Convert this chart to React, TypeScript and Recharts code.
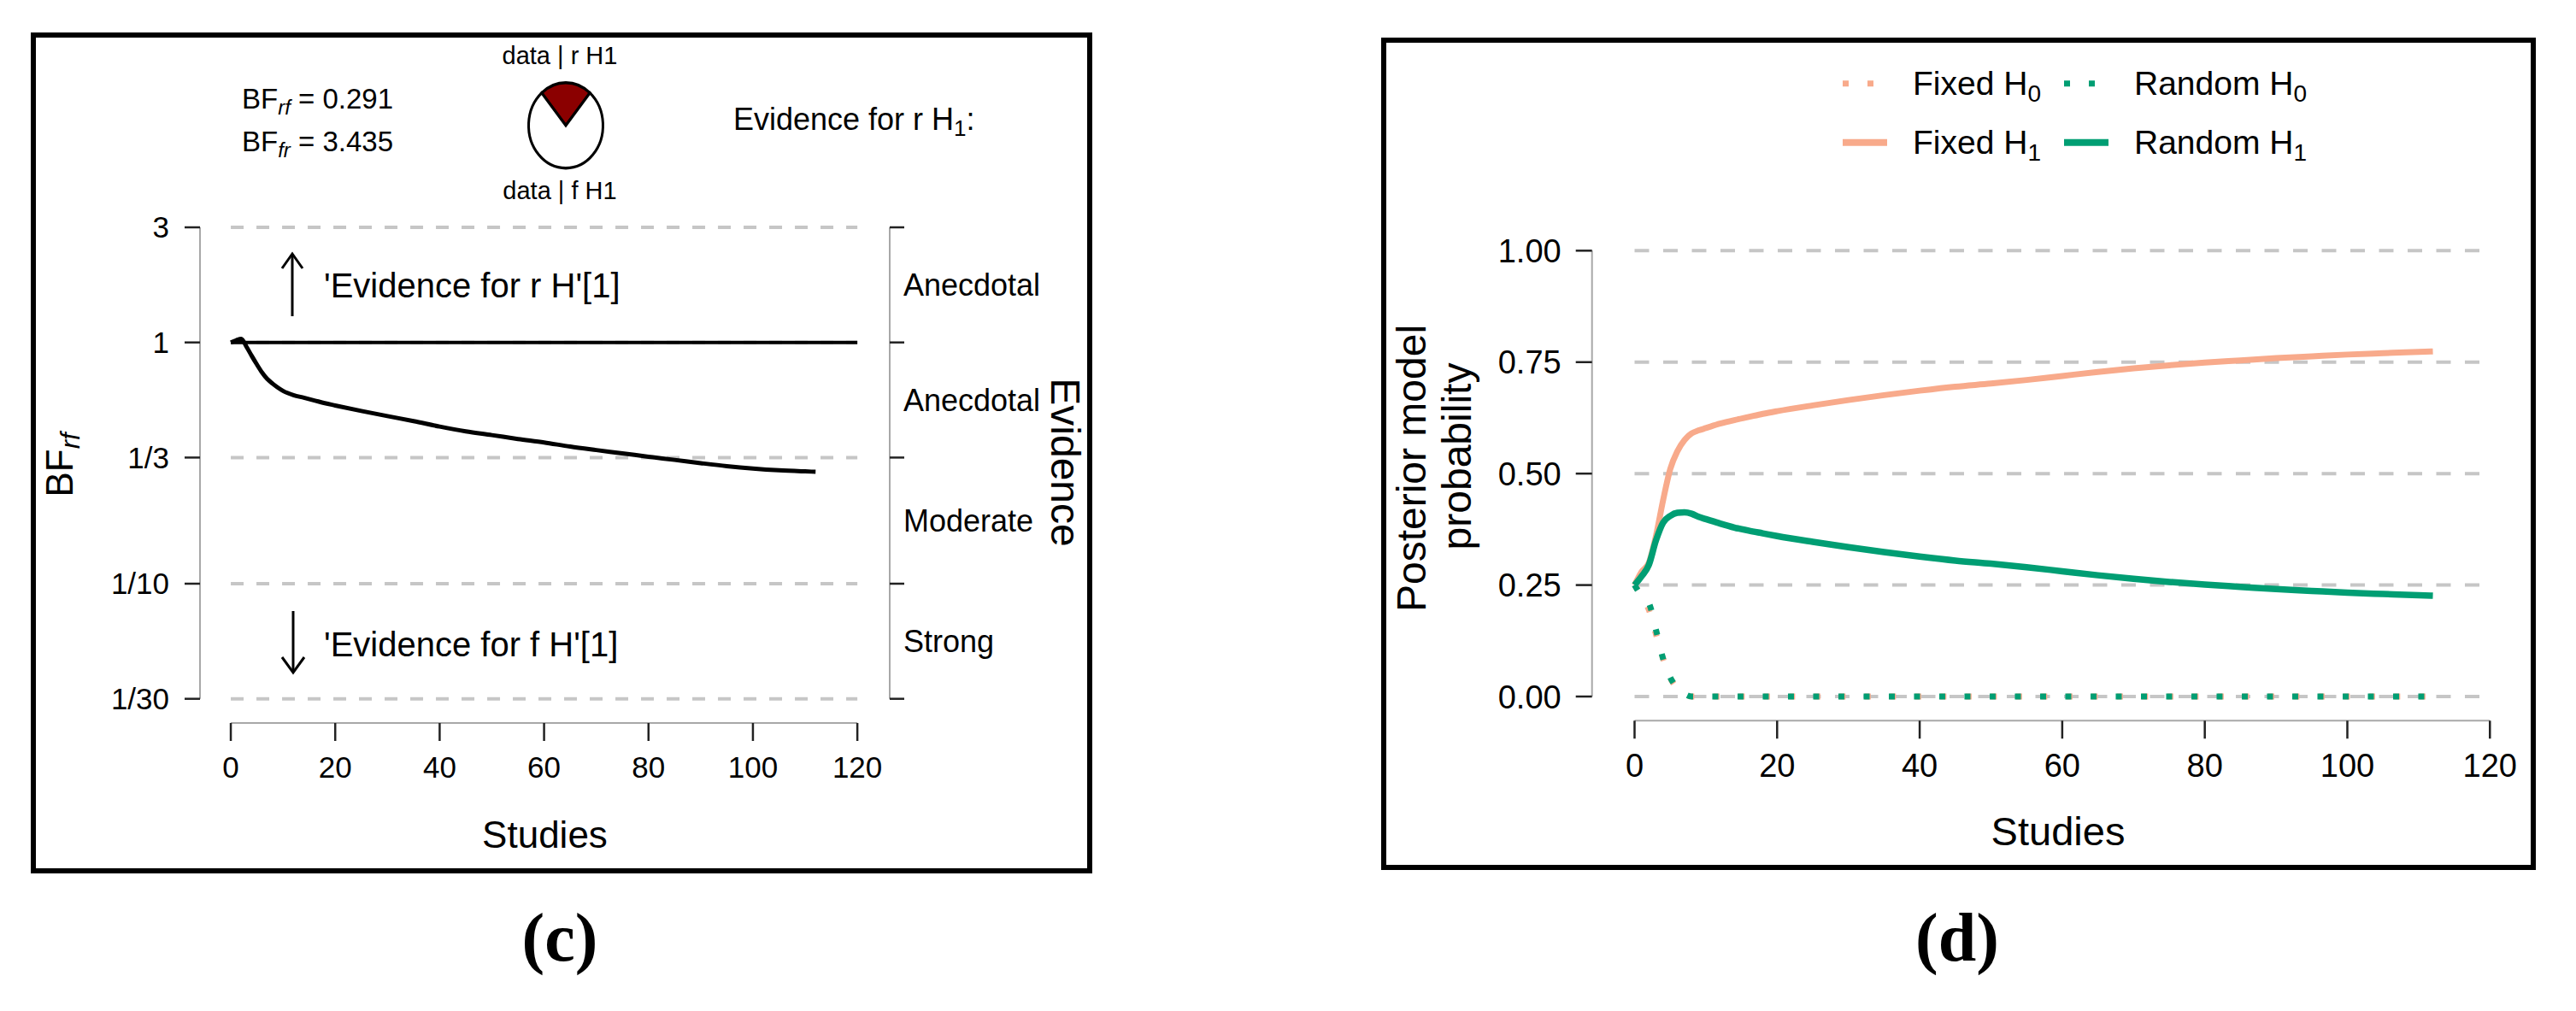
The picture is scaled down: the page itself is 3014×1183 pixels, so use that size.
import React from "react";
import {
  LineChart, Line, XAxis, YAxis, ReferenceLine, Label, Legend,
  PieChart, Pie, Cell,
} from "recharts";

const FONT = "'Liberation Sans', Arial, sans-serif";
const SERIF = "'Liberation Serif', 'Times New Roman', serif";

// shared x values (number of studies)
const STUDIES = [0, 1, 2, 3, 4, 5, 6, 7, 8, 9, 10, 12, 14, 16, 18, 20, 25, 30, 35, 40, 45, 50, 55, 60, 65, 70, 75, 80, 85, 90, 95, 100, 105, 110, 112];
const X_TICKS = [0, 20, 40, 60, 80, 100, 120];

// panel (c): sequential BF_rf
const BF_RF = [1.0, 1.02, 1.035, 0.96, 0.88, 0.81, 0.75, 0.705, 0.675, 0.65, 0.63, 0.605, 0.59, 0.575, 0.56, 0.548, 0.52, 0.495, 0.472, 0.448, 0.428, 0.413, 0.398, 0.385, 0.37, 0.358, 0.347, 0.336, 0.326, 0.316, 0.307, 0.3, 0.295, 0.292, 0.291];
const BF_TICKS = [1 / 30, 1 / 10, 1 / 3, 1, 3];
const BF_TICK_LABELS = ["1/30", "1/10", "1/3", "1", "3"];
const EVIDENCE_CATS = ["Strong", "Moderate", "Anecdotal", "Anecdotal"];
const PIE_SHARES = [0.225, 0.775];

// panel (d): posterior model probabilities
const FIXED_H0 = [0.25, 0.225, 0.195, 0.14, 0.085, 0.042, 0.019, 0.006, 0, 0, 0, 0, 0, 0, 0, 0, 0, 0, 0, 0, 0, 0, 0, 0, 0, 0, 0, 0, 0, 0, 0, 0, 0, 0, 0];
const RANDOM_H0 = [0.25, 0.225, 0.21, 0.15, 0.085, 0.043, 0.019, 0.006, 0, 0, 0, 0, 0, 0, 0, 0, 0, 0, 0, 0, 0, 0, 0, 0, 0, 0, 0, 0, 0, 0, 0, 0, 0, 0, 0];
const FIXED_H1 = [0.25, 0.28, 0.3, 0.36, 0.44, 0.51, 0.55, 0.575, 0.59, 0.597, 0.602, 0.612, 0.62, 0.627, 0.634, 0.64, 0.653, 0.665, 0.676, 0.686, 0.695, 0.702, 0.71, 0.719, 0.728, 0.736, 0.743, 0.749, 0.754, 0.759, 0.763, 0.767, 0.77, 0.773, 0.774];
const RANDOM_H1 = [0.25, 0.27, 0.295, 0.35, 0.39, 0.405, 0.412, 0.413, 0.41, 0.403, 0.398, 0.388, 0.379, 0.372, 0.366, 0.36, 0.347, 0.335, 0.324, 0.314, 0.305, 0.298, 0.29, 0.281, 0.272, 0.264, 0.257, 0.251, 0.246, 0.241, 0.237, 0.233, 0.23, 0.227, 0.226];
const PROB_TICKS = [0, 0.25, 0.5, 0.75, 1];

const SALMON = "#F8AA8B";
const GREEN = "#009E73";
const GRID = "#c6c6c6";
const AXIS = "#a8a8a8";
const TICK = "#222";

const C_X_DOMAIN = [-5.9, 126.2];
const C_Y_DOMAIN = [0.02646, 3.59];
const D_X_DOMAIN = [-5.97, 124.8];
const D_Y_DOMAIN = [-0.0542, 1.0401];

const LEGEND_ITEMS = [
  { label: "Fixed", sub: "0", color: SALMON, dash: "7 22" },
  { label: "Random", sub: "0", color: GREEN, dash: "7 22" },
  { label: "Fixed", sub: "1", color: SALMON, dash: undefined },
  { label: "Random", sub: "1", color: GREEN, dash: undefined },
];

const cRows = STUDIES.map((s, i) => ({ study: s, bf: BF_RF[i] }));
const dRows = STUDIES.map((s, i) => ({
  study: s,
  fixedH0: FIXED_H0[i],
  randomH0: RANDOM_H0[i],
  fixedH1: FIXED_H1[i],
  randomH1: RANDOM_H1[i],
}));
const pieRows = [
  { name: "data | r H1", value: PIE_SHARES[0] },
  { name: "data | f H1", value: PIE_SHARES[1] },
];

function renderLegend() {
  return (
    <svg width={420} height={130} style={{ overflow: "visible", fontFamily: FONT }}>
      {LEGEND_ITEMS.map((it, i) => {
        const x0 = 6 + (i % 2) * 259;
        const y0 = 37.7 + Math.floor(i / 2) * 69;
        return (
          <g key={i}>
            <line x1={x0} x2={x0 + 52} y1={y0} y2={y0} stroke={it.color}
              strokeWidth={it.dash ? 7 : 8} strokeDasharray={it.dash} />
            <text x={x0 + 82} y={y0 + 13} fontSize={39} fill="#000">
              {it.label} H<tspan fontSize={28} dy={8}>{it.sub}</tspan>
            </text>
          </g>
        );
      })}
    </svg>
  );
}

function PanelC() {
  const tickStyle = { fontSize: 35, fill: "#000" };
  return (
    <div style={{ position: "absolute", left: 36, top: 38, width: 1242, height: 984 }}>
      <LineChart width={1242} height={984} data={cRows}
        margin={{ top: 206, right: 37, bottom: 76, left: 78 }}>
        <XAxis dataKey="study" type="number" domain={C_X_DOMAIN} allowDataOverflow ticks={X_TICKS}
          interval={0} height={100} axisLine={false} tickLine={{ stroke: TICK, strokeWidth: 2.5 }}
          tickSize={21} tickMargin={18} tick={tickStyle}>
          <Label value="Studies" position="insideTop" offset={115} fontSize={44} fill="#000" />
        </XAxis>
        <YAxis yAxisId="l" type="number" scale="log" domain={C_Y_DOMAIN} allowDataOverflow
          ticks={BF_TICKS} interval={0} width={120} axisLine={false}
          tickFormatter={(v) => BF_TICK_LABELS[BF_TICKS.indexOf(v)]}
          tickLine={{ stroke: TICK, strokeWidth: 2.5 }} tickSize={18} tickMargin={18} tick={tickStyle} />
        <YAxis yAxisId="r" orientation="right" type="number" scale="log" domain={C_Y_DOMAIN}
          allowDataOverflow ticks={BF_TICKS} interval={0} width={200} axisLine={false}
          tickFormatter={() => ""} tickLine={{ stroke: TICK, strokeWidth: 2.5 }} tickSize={17} />

        {BF_TICKS.map((v) => (
          <ReferenceLine key={v} yAxisId="l" segment={[{ x: 0, y: v }, { x: 120, y: v }]}
            stroke={GRID} strokeWidth={4} strokeDasharray="15 15" ifOverflow="visible" />
        ))}
        <ReferenceLine yAxisId="l" ifOverflow="visible" stroke={AXIS} strokeWidth={2}
          segment={[{ x: 0, y: C_Y_DOMAIN[0] }, { x: 120, y: C_Y_DOMAIN[0] }]} />
        <ReferenceLine yAxisId="l" ifOverflow="visible" stroke={AXIS} strokeWidth={2}
          segment={[{ x: C_X_DOMAIN[0], y: BF_TICKS[0] }, { x: C_X_DOMAIN[0], y: BF_TICKS[4] }]} />
        <ReferenceLine yAxisId="l" ifOverflow="visible" stroke={AXIS} strokeWidth={2}
          segment={[{ x: C_X_DOMAIN[1], y: BF_TICKS[0] }, { x: C_X_DOMAIN[1], y: BF_TICKS[4] }]} />
        {EVIDENCE_CATS.map((c, i) => (
          <ReferenceLine key={"cat" + i} yAxisId="l" y={Math.sqrt(BF_TICKS[i] * BF_TICKS[i + 1])}
            stroke="none" label={{ value: c, position: "right", offset: 16, fontSize: 36, fill: "#000" }} />
        ))}
        <ReferenceLine yAxisId="l" ifOverflow="visible" stroke="#000" strokeWidth={4}
          segment={[{ x: 0, y: 1 }, { x: 120, y: 1 }]} />

        <Line yAxisId="l" dataKey="bf" type="monotone" stroke="#000" strokeWidth={5}
          dot={false} activeDot={false} isAnimationActive={false} />
      </LineChart>
      <div style={{ position: "absolute", left: 597 - 36, top: 81 - 38, width: 120, height: 120, transform: "scaleY(1.15)" }}>
        <PieChart width={120} height={120}>
          <Pie data={pieRows} dataKey="value" cx={60} cy={60} outerRadius={43.5}
            startAngle={90 + PIE_SHARES[0] * 180} endAngle={90 + PIE_SHARES[0] * 180 - 360}
            stroke="#000" strokeWidth={3} isAnimationActive={false}>
            <Cell fill="#8B0000" />
            <Cell fill="#ffffff" />
          </Pie>
        </PieChart>
      </div>
    </div>
  );
}

function PanelD() {
  const tickStyle = { fontSize: 38, fill: "#000" };
  return (
    <div style={{ position: "absolute", left: 1616, top: 44, width: 1351, height: 974 }}>
      <LineChart width={1351} height={974} data={dRows}
        margin={{ top: 228.4, right: 13.7, bottom: 74.7, left: 96.7 }}>
        <XAxis dataKey="study" type="number" domain={D_X_DOMAIN} allowDataOverflow ticks={X_TICKS}
          interval={0} height={100} axisLine={false} tickLine={{ stroke: TICK, strokeWidth: 2.5 }}
          tickSize={21} tickMargin={18} tick={tickStyle}>
          <Label value="Studies" position="insideTop" offset={112} fontSize={47} fill="#000" />
        </XAxis>
        <YAxis type="number" domain={D_Y_DOMAIN} allowDataOverflow ticks={PROB_TICKS} interval={0}
          width={150} axisLine={false} tickFormatter={(v) => v.toFixed(2)}
          tickLine={{ stroke: TICK, strokeWidth: 2.5 }} tickSize={19} tickMargin={17} tick={tickStyle} />

        {PROB_TICKS.map((v) => (
          <ReferenceLine key={v} segment={[{ x: 0, y: v }, { x: 120, y: v }]}
            stroke={GRID} strokeWidth={4} strokeDasharray="17 16.5" ifOverflow="visible" />
        ))}
        <ReferenceLine ifOverflow="visible" stroke={AXIS} strokeWidth={2}
          segment={[{ x: 0, y: D_Y_DOMAIN[0] }, { x: 120, y: D_Y_DOMAIN[0] }]} />
        <ReferenceLine ifOverflow="visible" stroke={AXIS} strokeWidth={2}
          segment={[{ x: D_X_DOMAIN[0], y: 0 }, { x: D_X_DOMAIN[0], y: 1 }]} />

        <Line dataKey="fixedH1" type="monotone" stroke={SALMON} strokeWidth={7}
          dot={false} activeDot={false} isAnimationActive={false} />
        <Line dataKey="fixedH0" type="monotone" stroke={SALMON} strokeWidth={7} strokeDasharray="7 22.5"
          dot={false} activeDot={false} isAnimationActive={false} />
        <Line dataKey="randomH1" type="monotone" stroke={GREEN} strokeWidth={7.5}
          dot={false} activeDot={false} isAnimationActive={false} />
        <Line dataKey="randomH0" type="monotone" stroke={GREEN} strokeWidth={7} strokeDasharray="7 22.5"
          dot={false} activeDot={false} isAnimationActive={false} />

        <Legend content={renderLegend} verticalAlign="middle" align="center"
          wrapperStyle={{ position: "absolute", left: 534, top: 16, width: 420, height: 130 }} />
      </LineChart>
    </div>
  );
}

function Overlay() {
  return (
    <svg width={3014} height={1183} style={{ position: "absolute", left: 0, top: 0, pointerEvents: "none", fontFamily: FONT }}>
      <rect x={39} y={41} width={1236} height={978} fill="none" stroke="#000" strokeWidth={6} />
      <rect x={1619} y={47} width={1345} height={968} fill="none" stroke="#000" strokeWidth={6} />

      {/* panel (c) header */}
      <text x={283} y={127} fontSize={33}>BF<tspan fontStyle="italic" fontSize={24} dy={7}>rf</tspan><tspan dy={-7}> = 0.291</tspan></text>
      <text x={283} y={177} fontSize={33}>BF<tspan fontStyle="italic" fontSize={24} dy={7}>fr</tspan><tspan dy={-7}> = 3.435</tspan></text>
      <text x={655} y={75} fontSize={29} textAnchor="middle">data | r H1</text>
      <text x={655} y={233} fontSize={29} textAnchor="middle">data | f H1</text>
      <text x={858} y={152} fontSize={36}>Evidence for r H<tspan fontSize={26} dy={7}>1</tspan><tspan dy={-7}>:</tspan></text>

      {/* arrows */}
      <g stroke="#000" strokeWidth={3} fill="none">
        <line x1={342} y1={370} x2={342} y2={298} />
        <polyline points="330,314 342,297 354,314" />
        <line x1={343} y1={715} x2={343} y2={786} />
        <polyline points="330,769 343,787 356,769" />
      </g>
      <text x={379} y={348} fontSize={40}>'Evidence for r H'[1]</text>
      <text x={379} y={768} fontSize={40}>'Evidence for f H'[1]</text>

      {/* axis titles */}
      <text x={85} y={544} fontSize={44} textAnchor="middle" transform="rotate(-90 85 544)">
        BF<tspan fontStyle="italic" fontSize={31} dy={8}>rf</tspan>
      </text>
      <text x={1230} y={541} fontSize={48} textAnchor="middle" transform="rotate(90 1230 541)">Evidence</text>
      <text x={1668} y={548} fontSize={48} textAnchor="middle" transform="rotate(-90 1668 548)">Posterior model</text>
      <text x={1721} y={534} fontSize={48} textAnchor="middle" transform="rotate(-90 1721 534)">probability</text>

      <text x={655} y={1124} fontSize={80} fontFamily={SERIF} fontWeight="bold" textAnchor="middle">(c)</text>
      <text x={2290} y={1124} fontSize={80} fontFamily={SERIF} fontWeight="bold" textAnchor="middle">(d)</text>
    </svg>
  );
}

export default function App() {
  return (
    <div style={{ position: "absolute", left: 0, top: 0, width: 3014, height: 1183, background: "#fff", fontFamily: FONT }}>
      <PanelC />
      <PanelD />
      <Overlay />
    </div>
  );
}
